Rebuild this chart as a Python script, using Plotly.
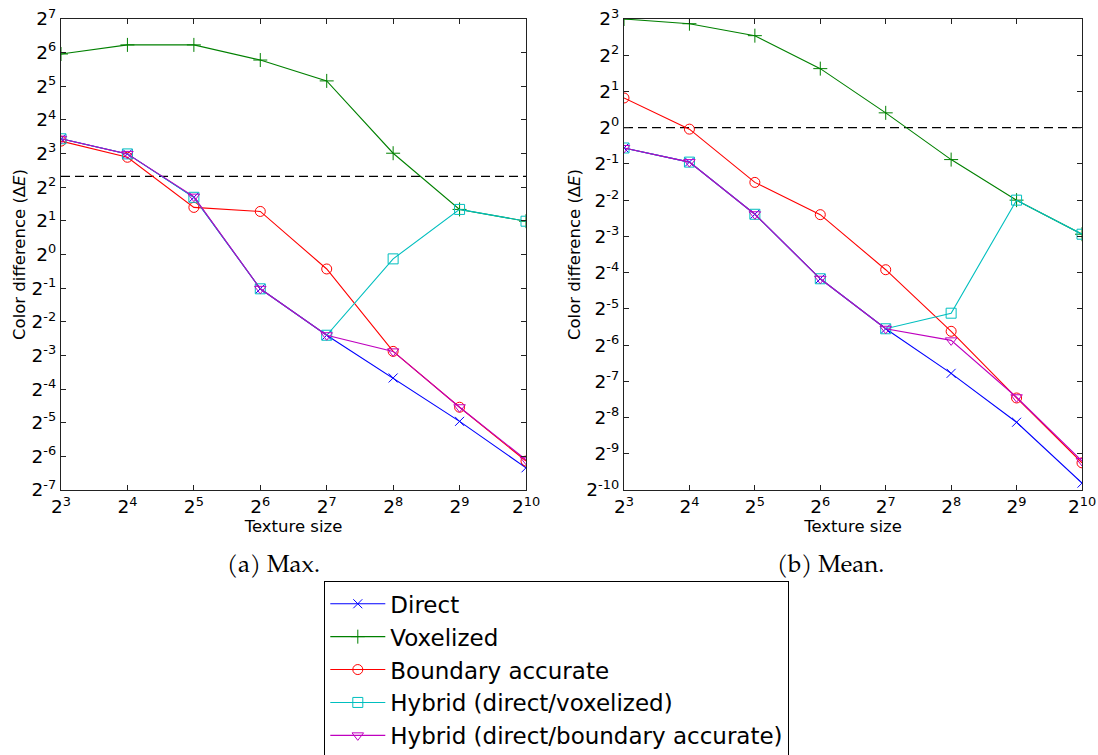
import plotly.graph_objects as go

# ---------------- data (exponents of 2) ----------------
texture_exp = [3, 4, 5, 6, 7, 8, 9, 10]
series_names = ["Direct", "Voxelized", "Boundary accurate",
                "Hybrid (direct/voxelized)", "Hybrid (direct/boundary accurate)"]

# Max. (log2 of colour difference)
max_direct   = [3.44, 2.99, 1.70, -1.02, -2.40, -3.67, -4.96, -6.34]
max_voxel    = [5.96, 6.23, 6.23, 5.78, 5.16, 3.01, 1.34, 0.99]
max_boundary = [3.37, 2.89, 1.40, 1.28, -0.43, -2.88, -4.54, -6.14]
max_hyb_vox  = [3.44, 2.99, 1.70, -1.02, -2.40, -0.13, 1.34, 0.99]
max_hyb_bnd  = [3.44, 2.99, 1.72, -1.02, -2.40, -2.88, -4.54, -6.10]
max_threshold = 5.0

# Mean. (log2 of colour difference)
mean_direct   = [-0.56, -0.95, -2.39, -4.17, -5.55, -6.78, -8.13, -9.81]
mean_voxel    = [3.00, 2.87, 2.54, 1.63, 0.41, -0.88, -2.00, -2.94]
mean_boundary = [0.82, -0.04, -1.51, -2.40, -3.92, -5.62, -7.46, -9.25]
mean_hyb_vox  = [-0.56, -0.95, -2.39, -4.17, -5.55, -5.12, -2.00, -2.94]
mean_hyb_bnd  = [-0.56, -0.95, -2.39, -4.17, -5.55, -5.87, -7.44, -9.20]
mean_threshold = 1.0

x_tick_exp = list(range(3, 11))
max_y_tick_exp = list(range(-7, 8))
mean_y_tick_exp = list(range(-10, 4))

captions = ["(a) Max.", "(b) Mean."]
x_title = "Texture size"
y_title = "Color difference (Δ<i>E</i>)"

# ---------------- styles ----------------
colors = ["#0000FF", "#008000", "#FF0000", "#00BFBF", "#BF00BF"]
symbols = ["x-thin-open", "cross-thin-open", "circle-open", "square-open", "triangle-down-open"]
sizes = [9, 10, 10, 10, 10]

W, H = 1098, 755
ML, MR, MT, MB = 61, 1082, 19, 490  # plot region in pixels
ax_left = (61, 526)
ax_right = (624, 1082)

def px2x(p):
    return (p - ML) / (MR - ML)

def px2y(p):
    return (MB - p) / (MB - MT)

fig = go.Figure()

xs = [2 ** e for e in texture_exp]
panels = [
    ([max_direct, max_voxel, max_boundary, max_hyb_vox, max_hyb_bnd], max_threshold, "x", "y"),
    ([mean_direct, mean_voxel, mean_boundary, mean_hyb_vox, mean_hyb_bnd], mean_threshold, "x2", "y2"),
]

for pi, (series, thr, xa, ya) in enumerate(panels):
    fig.add_trace(go.Scatter(
        x=[xs[0], xs[-1]], y=[thr, thr], mode="lines",
        line=dict(color="black", width=1.3, dash="9px,5px"),
        showlegend=False, hoverinfo="skip", xaxis=xa, yaxis=ya))
    for si, vals in enumerate(series):
        fig.add_trace(go.Scatter(
            x=xs, y=[2 ** v for v in vals], mode="lines+markers",
            name=series_names[si],
            line=dict(color=colors[si], width=1.1),
            marker=dict(symbol=symbols[si], size=sizes[si], color=colors[si],
                        line=dict(color=colors[si], width=1)),
            showlegend=(pi == 0), legendrank=si,
            xaxis=xa, yaxis=ya))

def sup_labels(exps):
    return ["2<sup>%d</sup>" % e for e in exps]

title_font = dict(family="DejaVu Sans", size=16.5, color="black")
common_axis = dict(
    type="log", showline=True, linecolor="#222", linewidth=1.3, mirror="ticks",
    ticks="inside", ticklen=5, tickcolor="#222", showgrid=False, zeroline=False,
    automargin=False, ticklabeloverflow="allow",
    tickfont=dict(family="DejaVu Sans", size=18.5, color="black"),
)
log2 = 0.30102999566

fig.update_layout(
    width=W, height=H,
    margin=dict(l=ML, r=W - MR, t=MT, b=H - MB, autoexpand=False),
    paper_bgcolor="white", plot_bgcolor="white",
    xaxis=dict(common_axis, domain=[px2x(ax_left[0]), px2x(ax_left[1])],
               range=[3 * log2, 10 * log2],
               tickvals=[2 ** e for e in x_tick_exp], ticktext=sup_labels(x_tick_exp),
               anchor="y",
               title=dict(text=x_title, font=title_font, standoff=4)),
    yaxis=dict(common_axis, domain=[0, 1],
               range=[-7 * log2, 7 * log2],
               tickvals=[2 ** e for e in max_y_tick_exp], ticktext=sup_labels(max_y_tick_exp),
               anchor="x",
               title=dict(text=y_title, font=title_font, standoff=1)),
    xaxis2=dict(common_axis, domain=[px2x(ax_right[0]), px2x(ax_right[1])],
                range=[3 * log2, 10 * log2],
                tickvals=[2 ** e for e in x_tick_exp], ticktext=sup_labels(x_tick_exp),
                anchor="y2",
                title=dict(text=x_title, font=title_font, standoff=4)),
    yaxis2=dict(common_axis, domain=[0, 1],
                range=[-10 * log2, 3 * log2],
                tickvals=[2 ** e for e in mean_y_tick_exp], ticktext=sup_labels(mean_y_tick_exp),
                anchor="x2",
                title=dict(text=y_title, font=title_font, standoff=1)),
    legend=dict(x=px2x(324), y=px2y(581), xanchor="left", yanchor="top",
                bgcolor="white", bordercolor="black", borderwidth=1.3,
                font=dict(family="DejaVu Sans", size=23, color="black"),
                itemwidth=55, tracegroupgap=0, traceorder="normal"),
    showlegend=True,
)

serif = "Palatino Linotype, Book Antiqua, Palatino, TeX Gyre Pagella, Liberation Serif, serif"
for cap, cx in zip(captions, [273, 830]):
    fig.add_annotation(text=cap, x=px2x(cx), y=px2y(566), xref="paper", yref="paper",
                       xanchor="center", yanchor="middle", showarrow=False,
                       font=dict(family=serif, size=24, color="black"))

fig.write_html(
    "out.html",
    config={"displayModeBar": False},
    post_script="document.body.style.margin='0';document.body.style.overflow='hidden';",
)
